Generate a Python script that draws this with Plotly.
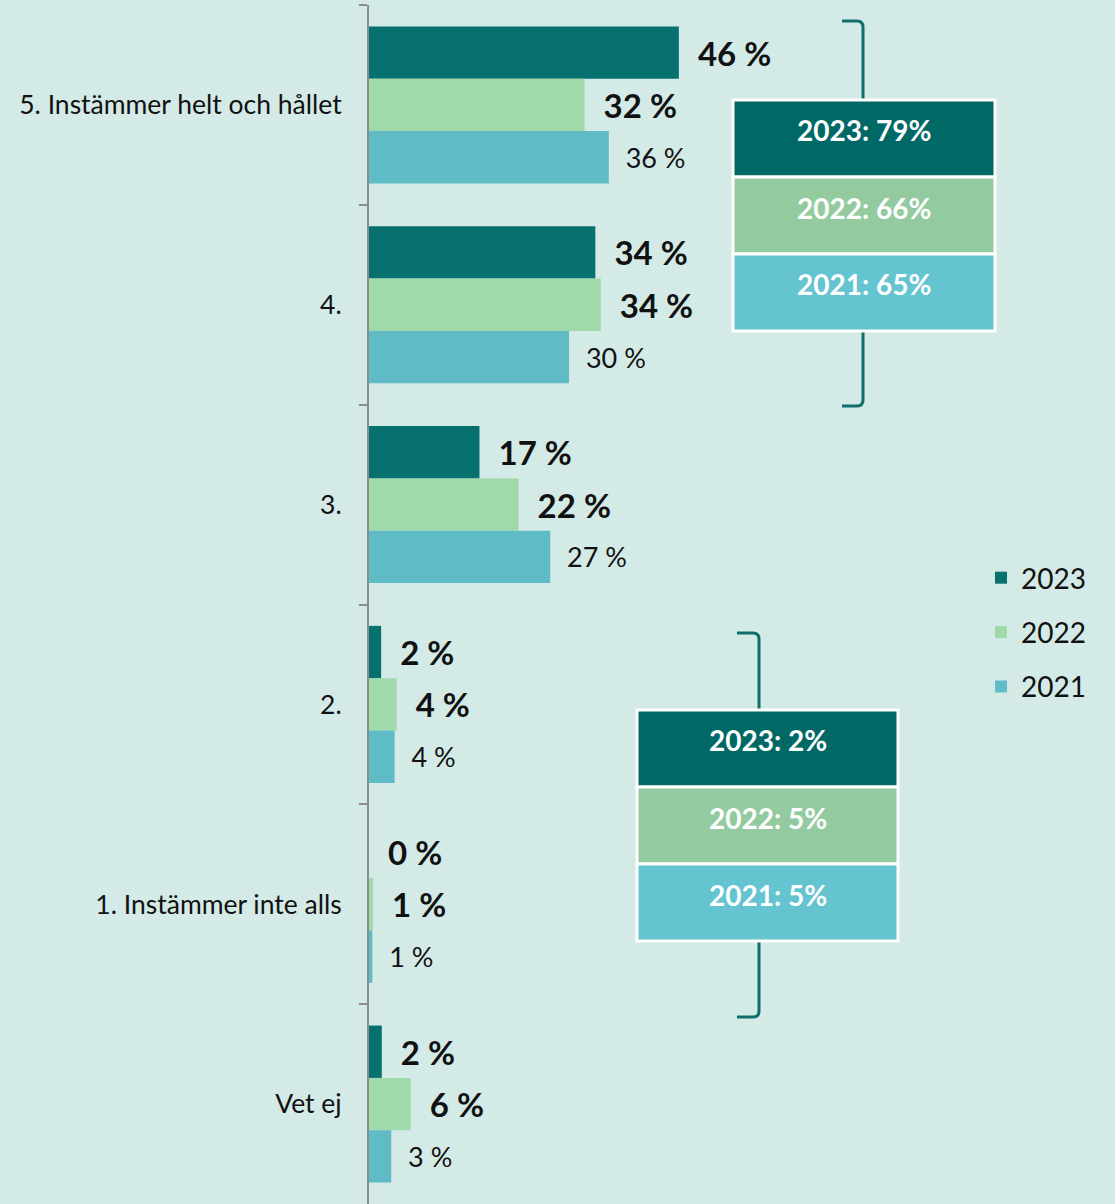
import plotly.graph_objects as go

categories = ["5. Instämmer helt och hållet", "4.", "3.", "2.", "1. Instämmer inte alls", "Vet ej"]
years = ["2023", "2022", "2021"]
values_2023 = [46.0, 33.6, 16.4, 1.8, 0.0, 1.9]
values_2022 = [32.0, 34.4, 22.2, 4.1, 0.6, 6.2]
values_2021 = [35.6, 29.7, 26.9, 3.8, 0.5, 3.3]
labels_2023 = ["46 %", "34 %", "17 %", "2 %", "0 %", "2 %"]
labels_2022 = ["32 %", "34 %", "22 %", "4 %", "1 %", "6 %"]
labels_2021 = ["36 %", "30 %", "27 %", "4 %", "1 %", "3 %"]
top_box = ["2023: 79%", "2022: 66%", "2021: 65%"]
bottom_box = ["2023: 2%", "2022: 5%", "2021: 5%"]

bar_colors = ["#06716F", "#A0D9AA", "#5FBBC6"]
box_colors = ["#006966", "#94CA9F", "#64C4D0"]
bg = "#D3EAE7"
font = "Lato"

W, H = 1115, 1204
L, R, T, B = 369, 5, 5, 0


def px(x):
    return (x - L) / (W - L - R)


def py(y):
    return (H - B - y) / (H - T - B)


fig = go.Figure()
series = [
    (values_2023, labels_2023, True),
    (values_2022, labels_2022, True),
    (values_2021, labels_2021, False),
]
for i, (vals, labs, bold) in enumerate(series):
    fig.add_trace(go.Bar(
        y=categories,
        x=vals,
        orientation="h",
        name=years[i],
        legendgroup=years[i],
        marker=dict(color=bar_colors[i], line=dict(width=0)),
        text=["\u00a0\u00a0" + t for t in labs],
        textposition="outside",
        cliponaxis=False,
        constraintext="none",
        textfont=dict(family=font, size=33 if bold else 27, color="#111111",
                      weight="bold" if bold else "normal"),
        hoverinfo="skip",
    ))

shapes = []
annotations = []


def summary_box(x0, x1, y0, row_h, texts):
    for k, t in enumerate(texts):
        ya = y0 + k * row_h
        yb = ya + row_h
        shapes.append(dict(type="rect", xref="paper", yref="paper",
                           x0=px(x0), x1=px(x1), y0=py(yb), y1=py(ya),
                           fillcolor=box_colors[k], line=dict(color="white", width=3)))
        annotations.append(dict(xref="paper", yref="paper", x=px((x0 + x1) / 2),
                                y=py((ya + yb) / 2), yshift=8, text="<b>%s</b>" % t,
                                showarrow=False, xanchor="center", yanchor="middle",
                                font=dict(family=font, size=28, color="white")))


def bracket(xl, xv, ytop, ybox0, ybox1, ybot):
    c = "#0E6F6B"
    p1 = "M %f,%f L %f,%f Q %f,%f %f,%f L %f,%f" % (
        px(xl), py(ytop), px(xv - 6), py(ytop), px(xv), py(ytop), px(xv), py(ytop + 6),
        px(xv), py(ybox0))
    p2 = "M %f,%f L %f,%f Q %f,%f %f,%f L %f,%f" % (
        px(xv), py(ybox1), px(xv), py(ybot - 6), px(xv), py(ybot), px(xv - 6), py(ybot),
        px(xl), py(ybot))
    for p in (p1, p2):
        shapes.append(dict(type="path", xref="paper", yref="paper", path=p,
                           line=dict(color=c, width=3)))


bracket(842, 863, 21, 100, 331, 406)
bracket(737, 759, 633, 710, 941, 1017)
summary_box(733, 995, 100, 77, top_box)
summary_box(637, 898, 710, 77, bottom_box)

fig.update_layout(
    width=W, height=H,
    margin=dict(l=L, r=R, t=T, b=B),
    paper_bgcolor=bg, plot_bgcolor=bg,
    barmode="group", bargap=0.214, bargroupgap=0,
    showlegend=True,
    legend=dict(x=px(981), y=py(553), xanchor="left", yanchor="top",
                traceorder="grouped", tracegroupgap=15, bgcolor="rgba(0,0,0,0)",
                font=dict(family=font, size=28, color="#111111")),
    xaxis=dict(range=[0, 110], visible=False, fixedrange=True),
    yaxis=dict(type="category", categoryorder="array", categoryarray=categories,
               autorange="reversed", showline=True, linecolor="#8C8C8C", linewidth=2,
               ticks="outside", tickson="boundaries", ticklen=8, tickcolor="#8C8C8C",
               tickwidth=2, ticklabelstandoff=20, showgrid=False, fixedrange=True,
               tickfont=dict(family=font, size=26.5, color="#111111")),
    shapes=shapes,
    annotations=annotations,
)

fig.write_html("out.html", config={"displayModeBar": False},
               post_script="document.body.style.margin='0';")
